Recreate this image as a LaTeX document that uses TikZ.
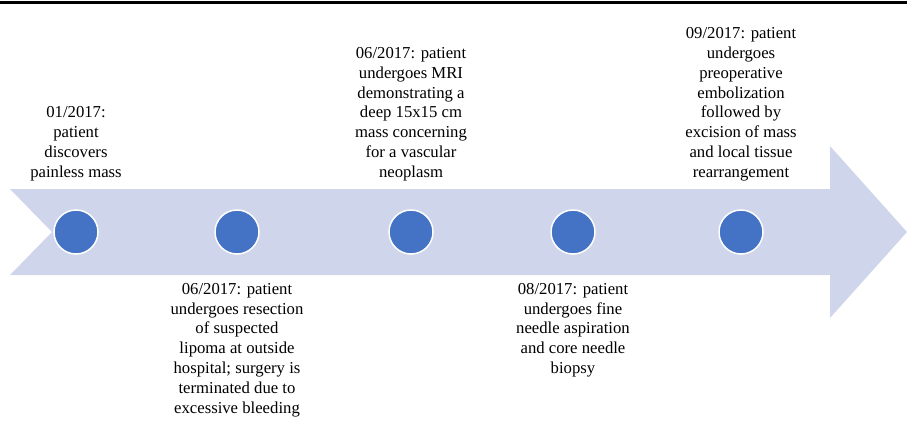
\documentclass[tikz,border=0pt]{standalone}
\usepackage{fontspec}
\newfontfamily\tnr{LiberationSerif}[Extension=.ttf,UprightFont=*-Regular]
\definecolor{arrowfill}{HTML}{CFD5EA}
\definecolor{dotfill}{HTML}{4472C4}
\begin{document}
\begin{tikzpicture}[x=1pt,y=-1pt,
  dot/.style={circle,fill=dotfill,draw=white,line width=1.5pt,minimum size=44pt,inner sep=0pt},
  txt/.style={align=center,inner sep=0pt,font=\tnr\fontsize{16.7}{19.8}\selectfont},
  toptxt/.style={txt,anchor=south},
  bottxt/.style={txt,anchor=north}]
\useasboundingbox (0,0) rectangle (907,424);
\draw[line width=3pt] (0,2) -- (907,2);
\fill[arrowfill] (10,189) -- (830,189) -- (830,146) -- (907,232) -- (830,318) -- (830,275) -- (10,275) -- (52,232) -- cycle;
\node[dot] (d1) at (76,232) {};
\node[dot] (d2) at (237,232) {};
\node[dot] (d3) at (411,232) {};
\node[dot] (d4) at (573,232) {};
\node[dot] (d5) at (741,232) {};
\node[toptxt] (t1) at (76,181) {01/2017:\\patient\\discovers\\painless mass};
\node[toptxt] (t3) at (411,181) {06/2017: patient\\undergoes MRI\\demonstrating a\\deep 15x15 cm\\mass concerning\\for a vascular\\neoplasm};
\node[toptxt] (t5) at (741,181) {09/2017: patient\\undergoes\\preoperative\\embolization\\followed by\\excision of mass\\and local tissue\\rearrangement};
\node[bottxt] (t2) at (237,283) {06/2017: patient\\undergoes resection\\of suspected\\lipoma at outside\\hospital; surgery is\\terminated due to\\excessive bleeding};
\node[bottxt] (t4) at (573,283) {08/2017: patient\\undergoes fine\\needle aspiration\\and core needle\\biopsy};
\end{tikzpicture}
\end{document}
